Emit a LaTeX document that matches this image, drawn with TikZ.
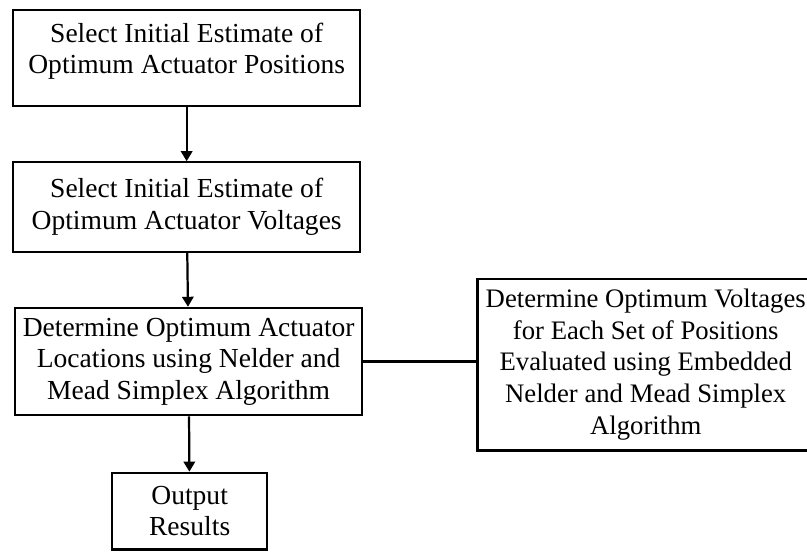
\documentclass[tikz,border=0pt]{standalone}
\usepackage{fontspec}
\setmainfont{Liberation Serif}
\usetikzlibrary{positioning,arrows.meta}

\begin{document}
\begin{tikzpicture}[node distance=1.62cm,
  box/.style={draw, line width=1.9pt, align=center, inner sep=2pt,
    font=\fontsize{23.5}{27}\selectfont},
  widebox/.style={box, minimum width=10.41cm},
  flow/.style={line width=1.9pt, -{Triangle[length=0.3cm,width=0.34cm]}}]
  \useasboundingbox (0,0) rectangle (24.21,-16.56);
  \node[widebox, minimum height=2.88cm, below] (positions) at (5.6,-0.27)
    {Select Initial Estimate of\\Optimum Actuator Positions\\[-0.35cm]\mbox{}};
  \node[widebox, minimum height=2.68cm, below=of positions] (voltages)
    {Select Initial Estimate of\\Optimum Actuator Voltages};
  \node[widebox, minimum height=3.22cm, below=of voltages, xshift=0.06cm] (locations)
    {Determine Optimum Actuator\\Locations using Nelder and\\Mead Simplex Algorithm};
  \node[box, minimum width=4.65cm, minimum height=2.3cm, below=1.66cm of locations, xshift=0.03cm] (results)
    {Output\\Results};
  \node[box, minimum width=10.1cm, minimum height=5.15cm, right=3.39cm of locations, yshift=-0.09cm,
    font=\fontsize{22.8}{27}\selectfont] (embedded)
    {Determine Optimum Voltages\\for Each Set of Positions\\Evaluated using Embedded\\Nelder and Mead Simplex\\Algorithm};
  \draw[flow] (positions) -- (voltages);
  \draw[flow] (voltages) -- (locations);
  \draw[flow] (locations) -- (results);
  \draw[line width=1.9pt] (locations.east) -- (locations.east -| embedded.west);
\end{tikzpicture}
\end{document}
